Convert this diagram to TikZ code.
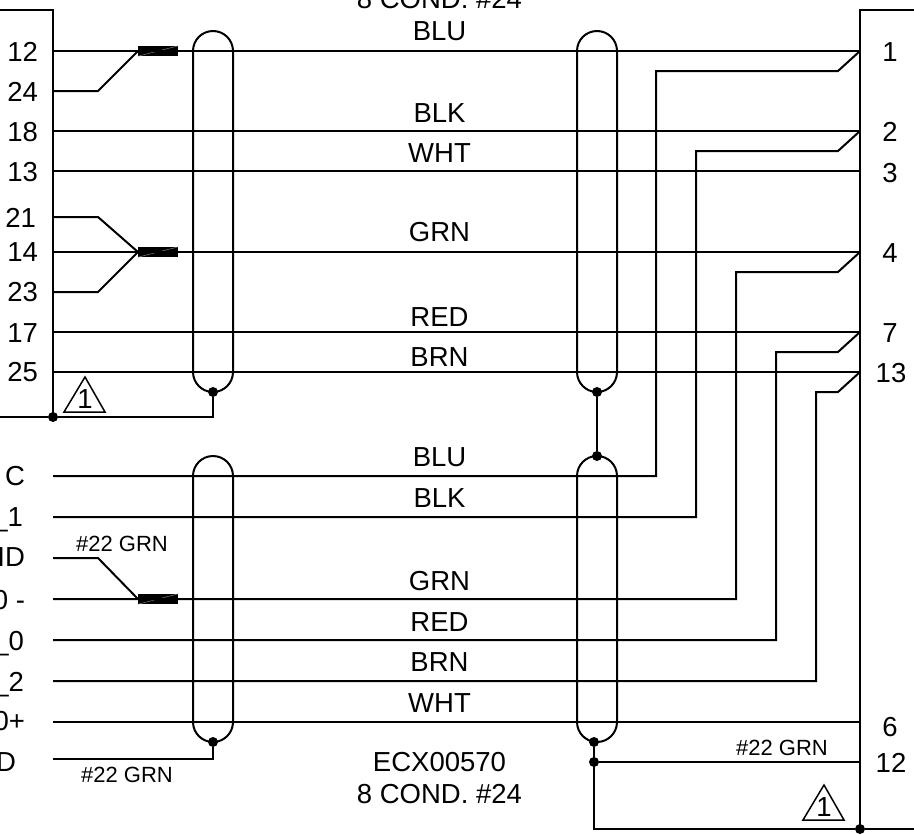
\documentclass[tikz,border=0pt]{standalone}
\usepackage{fontspec}
\setmainfont{Liberation Sans}
\tikzset{
  wire/.style={line width=2pt,black,line join=miter},
  lab/.style={inner sep=0pt,outer sep=0pt,anchor=base,font=\fontsize{27.5}{27.5}\selectfont},
  labr/.style={lab,anchor=base east},
  small/.style={lab,font=\fontsize{22}{22}\selectfont},
  dotnode/.style={circle,fill=black,inner sep=0pt,minimum size=10pt},
  ferrule/.style={fill=black,draw=none,minimum width=40pt,minimum height=10pt,inner sep=0pt,anchor=west},
  shield/.style={wire,rounded corners=20pt},
  tri/.style={line width=1.5pt,draw=black,line join=miter}
}
\newcommand{\triangl}[3]{%
  \draw[tri] (#2,#3) -- ++(-21,35) -- ++(41,0) -- cycle;
  \node[lab] (#1) at (#2,#3+31) {1};
}
\begin{document}
\begin{tikzpicture}[x=1pt,y=-1pt]
\useasboundingbox (0,0) rectangle (914,835);
\clip (0,0) rectangle (914,835);
% pins
\foreach \n/\y in {12/51,24/91,18/131,13/171,21/217,14/252,23/292,17/332,25/372,a/476,b/517,c/558,d/599,e/640,f/681,g/722,h/759}
  \coordinate (L\n) at (53,\y);
\foreach \n/\y in {1/51,2/131,3/171,4/252,7/332,13/372,6/722,12/762}
  \coordinate (R\n) at (860,\y);
% boxes
\coordinate (LT) at (53,10); \coordinate (LB) at (53,417);
\coordinate (RT) at (860,10); \coordinate (RB) at (860,829);
\draw[wire] (0,10) -- (LT) -- (LB);
\draw[wire] (914,10) -- (RT) -- (RB);
% shields
\draw[shield] (193,31) rectangle (233,392);
\draw[shield] (577,31) rectangle (617,392);
\draw[shield] (193,456) rectangle (233,742);
\draw[shield] (577,456) rectangle (617,742);
% ferrules
\node[ferrule] (F1) at (138,51) {};
\node[ferrule] (F2) at (138,252) {};
\node[ferrule] (F3) at (138,599) {};
\foreach \f in {F1,F2,F3}
  \draw[gray,line width=.5pt] (\f.south west) -- (\f.north east);
% straight wires
\draw[wire] (L12) -- (R1);
\draw[wire] (L18) -- (R2);
\draw[wire] (L13) -- (R3);
\draw[wire] (L14) -- (R4);
\draw[wire] (L17) -- (R7);
\draw[wire] (L25) -- (R13);
\draw[wire] (Lg) -- (R6);
% splices
\draw[wire] (L24) -- (98,91) -- (F1.west);
\draw[wire] (L21) -- (98,217) -- (F2.west);
\draw[wire] (L23) -- (98,292) -- (F2.west);
\draw[wire] (Lc) -- (98,558) -- (F3.west);
% crossovers
\draw[wire] (R1) -- (838,71) -- (656,71) -- (656,476) -- (La);
\draw[wire] (R2) -- (838,151) -- (696,151) -- (696,517) -- (Lb);
\draw[wire] (R4) -- (838,272) -- (736,272) -- (736,599) -- (Ld);
\draw[wire] (R7) -- (838,352) -- (776,352) -- (776,640) -- (Le);
\draw[wire] (R13) -- (838,392) -- (816,392) -- (816,681) -- (Lf);
% drains
\node[dotnode] (D1) at (53,417) {};
\node[dotnode] (D2) at (213,392) {};
\node[dotnode] (D3) at (597,392) {};
\node[dotnode] (D4) at (597,456) {};
\node[dotnode] (D5) at (213,742) {};
\node[dotnode] (D6) at (594,742) {};
\node[dotnode] (D7) at (594,762) {};
\node[dotnode] (D8) at (860,829) {};
\draw[wire] (0,417) -- (D1) -- (213,417) -- (D2);
\draw[wire] (D3) -- (D4);
\draw[wire] (Lh) -- (213,759) -- (D5);
\draw[wire] (D6) -- (594,829) -- (D8) -- (914,829);
\draw[wire] (D7) -- (R12);
% triangles
\triangl{T1}{85}{377}
\triangl{T2}{824}{785}
% left labels
\foreach \t/\x/\y/\n in {12/38/61/l1,24/38/101/l2,18/38/141.5/l3,13/38/181.5/l4,21/36/227.5/l5,14/38/261.5/l6,23/38/301.5/l7,17/38/342/l8,25/38/381.5/l9,
  C/25/485.5/l10,\_1/23/526.5/l11,ID/25/566.5/l12,0 -/25/609/l13,\_0/24/650/l14,\_2/24/691/l15,0+/25/730/l16,D/16/771.5/l17}
  \node[labr] (\n) at (\x,\y) {\t};
% right labels
\foreach \t/\x/\y/\n in {1/890/61/r1,2/890/141.5/r2,3/890/182/r3,4/890/262/r4,7/890/342/r5,13/891/382/r6,6/890/736/r7,12/891/772/r8}
  \node[lab] (\n) at (\x,\y) {\t};
% wire labels
\foreach \t/\y/\n in {BLU/41/w1,BLK/122/w2,WHT/162/w3,GRN/241.5/w4,RED/326.5/w5,BRN/366.5/w6,BLU/466.5/w7,BLK/507.5/w8,GRN/590/w9,RED/631/w10,BRN/671.5/w11,WHT/712/w12,ECX00570/771.5/w13,8 COND. \#24/803/w14,8 COND. \#24/9/w15}
  \node[lab] (\n) at (439.5,\y) {\t};
\node[small] (g1) at (122,551) {\#22 GRN};
\node[small] (g2) at (127,782) {\#22 GRN};
\node[small] (g3) at (782,755) {\#22 GRN};
\end{tikzpicture}
\end{document}
